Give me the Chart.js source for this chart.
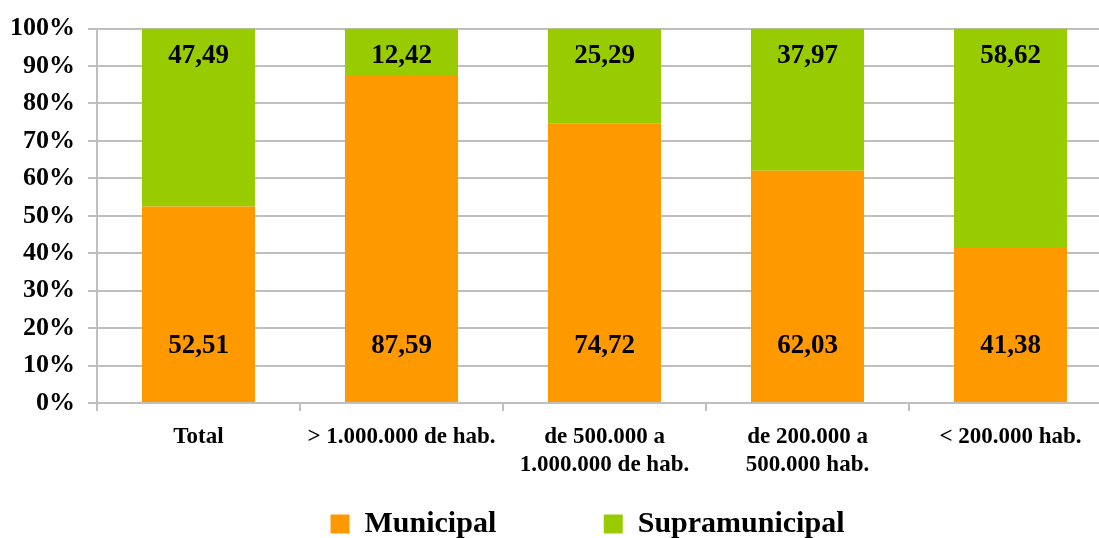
<!DOCTYPE html>
<html><head><meta charset="utf-8">
<script src="https://cdn.jsdelivr.net/npm/chart.js@4/dist/chart.umd.min.js"></script>
<style>html,body{margin:0;padding:0;background:#fff;overflow:hidden}canvas{display:block}</style>
</head><body>
<canvas id="c" width="1175" height="538"></canvas>
<script>
const categories = ['Total', '> 1.000.000 de hab.', ['de 500.000 a', '1.000.000 de hab.'], ['de 200.000 a', '500.000 hab.'], '< 200.000 hab.'];
const municipal = [52.51, 87.59, 74.72, 62.03, 41.38];
const supramunicipal = [47.49, 12.42, 25.29, 37.97, 58.62];
const yTicks = [0, 10, 20, 30, 40, 50, 60, 70, 80, 90, 100];

const FONT = "'Liberation Serif', 'Times New Roman', serif";

const labelPlugin = {
  id: 'valueLabels',
  afterDatasetsDraw(chart) {
    const ctx = chart.ctx;
    ctx.save();
    ctx.font = 'bold 27px ' + FONT;
    ctx.fillStyle = '#000';
    ctx.textAlign = 'center';
    ctx.textBaseline = 'middle';
    chart.data.datasets.forEach((ds, di) => {
      const meta = chart.getDatasetMeta(di);
      meta.data.forEach((bar, i) => {
        const txt = ds.data[i].toFixed(2).replace('.', ',');
        const y = di === 0 ? bar.base - 56 : bar.y + 27;
        ctx.fillText(txt, bar.x, y);
      });
    });
    ctx.restore();
  }
};

new Chart(document.getElementById('c'), {
  type: 'bar',
  data: {
    labels: categories,
    datasets: [
      { label: 'Municipal', data: municipal, backgroundColor: '#FF9900', borderWidth: 0, categoryPercentage: 1, barPercentage: 0.557 },
      { label: 'Supramunicipal', data: supramunicipal, backgroundColor: '#99CC00', borderWidth: 0, categoryPercentage: 1, barPercentage: 0.557 }
    ]
  },
  options: {
    responsive: false,
    animation: false,
    layout: { padding: { top: 26, bottom: -11, left: 0, right: 0 } },
    scales: {
      x: {
        stacked: true,
        grid: { offset: true, drawOnChartArea: false, drawTicks: true, tickLength: 8, color: '#BFBFBF', lineWidth: 2 },
        border: { display: true, color: '#BFBFBF', width: 2 },
        ticks: { color: '#000', padding: 12, maxRotation: 0, autoSkip: false, font: { family: FONT, size: 23, weight: 'bold', lineHeight: 1.22 } },
        afterFit(s) { s.height = 96; }
      },
      y: {
        stacked: true,
        min: 0, max: 100,
        afterBuildTicks(s) { s.ticks = yTicks.map(v => ({ value: v })); },
        grid: { color: '#BFBFBF', lineWidth: 2, tickLength: 9 },
        border: { display: true, color: '#BFBFBF', width: 2 },
        ticks: { color: '#000', padding: 13, callback: v => v + '%', font: { family: FONT, size: 26, weight: 'bold' } },
        afterFit(s) { s.width = 97; }
      },
      spacer: {
        type: 'linear',
        position: 'right',
        display: true,
        grid: { display: false, drawTicks: false },
        border: { display: false },
        ticks: { display: false },
        afterFit(s) { s.width = 63; }
      }
    },
    plugins: {
      tooltip: { enabled: false },
      legend: {
        position: 'bottom',
        labels: {
          color: '#000',
          boxWidth: 19, boxHeight: 19,
          padding: 10,
          font: { family: FONT, size: 30, weight: 'bold' },
          generateLabels(chart) {
            const items = Chart.defaults.plugins.legend.labels.generateLabels(chart);
            items[0].text = items[0].text + '\u00a0'.repeat(13);
            return items;
          }
        }
      }
    }
  },
  plugins: [labelPlugin]
});
</script>
</body></html>
